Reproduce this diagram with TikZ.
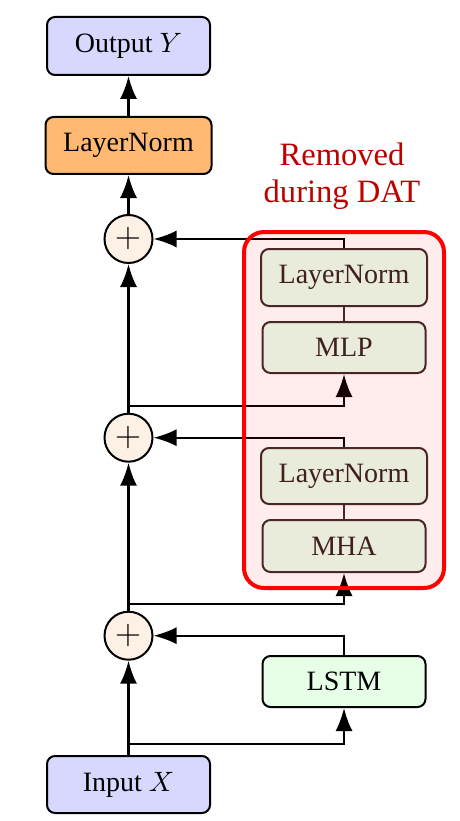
\documentclass[tikz,border=0pt]{standalone}
\usepackage{graphicx}
\usepackage{fontspec}
\setmainfont{Liberation Serif}
\newfontfamily\lmrom{Latin Modern Roman}
\usetikzlibrary{arrows.meta}
\newcommand{\mathbig}[2]{{\fontsize{10}{12}\selectfont\scalebox{#1}{$#2$}}}
\definecolor{outfill}{RGB}{216,216,255}
\definecolor{lnfill}{RGB}{255,185,115}
\definecolor{innerfill}{RGB}{232,255,236}
\definecolor{innerdraw}{RGB}{60,42,42}
\definecolor{lstmfill}{RGB}{230,255,230}
\definecolor{plusfill}{RGB}{253,240,228}
\definecolor{darkred}{RGB}{190,0,0}
\begin{document}
\begin{tikzpicture}[x=1pt,y=-1pt,
  box/.style={draw=black,line width=2pt,rounded corners=8pt,inner sep=0pt,
    font=\fontsize{28}{32}\selectfont},
  innerbox/.style={box,draw=innerdraw,fill=innerfill,text=innerdraw!80!black},
  plus/.style={circle,draw=black,line width=2pt,fill=plusfill,minimum size=48pt,inner sep=0pt,
    font=\lmrom\fontsize{36}{36}\selectfont},
  conn/.style={line width=2.2pt},
  arr/.style={conn,-{Latex[length=23pt,width=17pt]}}]
\useasboundingbox (0,0) rectangle (459,821);
% main column
\node[box,fill=outfill,minimum width=163pt,minimum height=58pt] (out) at (128.5,46) {Output \mathbig{2.8}{Y}};
\node[box,fill=lnfill,minimum width=166pt,minimum height=57pt] (lnf) at (128.5,145.5) {LayerNorm};
\node[plus] (p3) at (128.5,239) {\raisebox{-0.08em}{+}};
\node[plus] (p2) at (128.5,437.7) {\raisebox{-0.08em}{+}};
\node[plus] (p1) at (128.5,635.7) {\raisebox{-0.08em}{+}};
\node[box,fill=outfill,minimum width=163pt,minimum height=57pt] (in) at (128.5,784.5) {Input \mathbig{2.8}{X}};
% right column
\node[innerbox,minimum width=166pt,minimum height=57pt] (ln1) at (344,277.5) {LayerNorm};
\node[innerbox,minimum width=163pt,minimum height=51pt] (mlp) at (344,347.5) {MLP};
\node[innerbox,minimum width=166pt,minimum height=56pt] (ln2) at (344,476) {LayerNorm};
\node[innerbox,minimum width=163pt,minimum height=52pt] (mha) at (344,546) {MHA};
\node[box,fill=lstmfill,minimum width=163pt,minimum height=51pt] (lstm) at (344,681.5) {LSTM};
% branch coordinates
\coordinate (b1) at (128.5,744);
\coordinate (b2) at (128.5,604);
\coordinate (b3) at (128.5,406);
% connectors
\draw[arr] (in.north) -- (p1.south);
\draw[arr] (b1) -| (lstm.south);
\draw[arr] (lstm.north) |- (p1.east);
\draw[arr] (p1.north) -- (p2.south);
\draw[arr] (b2) -| (mha.south);
\draw[conn,innerdraw] (mha.north) -- (ln2.south);
\draw[arr] (ln2.north) |- (p2.east);
\draw[arr] (p2.north) -- (p3.south);
\draw[arr] (b3) -| (mlp.south);
\draw[conn,innerdraw] (mlp.north) -- (ln1.south);
\draw[arr] (ln1.north) |- (p3.east);
\draw[arr] (p3.north) -- (lnf.south);
\draw[arr] (lnf.north) -- (out.south);
% removed region overlay
\node[draw=red,line width=4pt,rounded corners=20pt,fill=red,fill opacity=0.075,draw opacity=1,
  minimum width=200pt,minimum height=356pt,inner sep=0pt] (rem) at (344,410) {};
\node[text=darkred,align=center,font=\fontsize{32.6}{37}\selectfont] (lbl) at (342,176) {Removed\\during DAT};
\end{tikzpicture}
\end{document}
